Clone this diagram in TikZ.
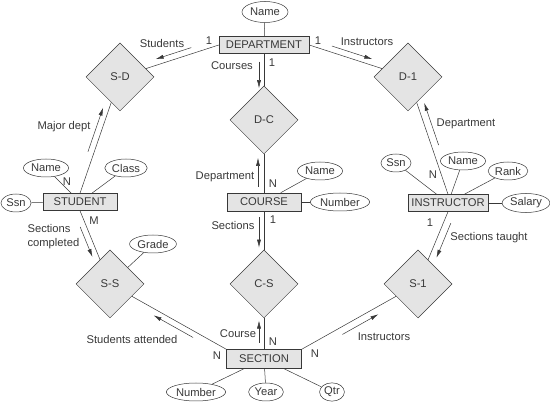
\documentclass[tikz,border=0pt]{standalone}
\usepackage{fontspec}
\setmainfont{Liberation Sans}
\usepackage{xcolor}
\usepackage{tikz}
\usetikzlibrary{shapes.geometric,arrows.meta,calc}

\definecolor{ink}{HTML}{383838}
\definecolor{boxfill}{HTML}{E4E4E4}

\begin{document}
\begin{tikzpicture}[x=1pt, y=-1pt, color=ink, line width=0.5pt,
                    font=\fontsize{11.2}{14}\selectfont,
                    entity/.style={rectangle, draw, fill=boxfill, minimum height=17pt, inner sep=0pt},
                    rel/.style={diamond, draw, fill=boxfill, minimum width=68pt, minimum height=68pt, inner sep=0pt},
                    attr/.style={ellipse, draw, fill=white, inner xsep=1pt, inner ysep=1.5pt, minimum height=18pt},
                    role/.style={-{Latex[length=8pt,width=4pt]}}]
  \useasboundingbox (0,0) rectangle (550,406);

  \node[entity, minimum width=90pt] (dept) at (264,45) {DEPARTMENT};
  \node[attr, minimum width=46pt, minimum height=21pt] (deptname) at (265,12) {Name};
  \node[rel] (sd) at (120,77) {S-D};
  \node[rel] (dc) at (264,120) {D-C};
  \node[rel] (di) at (408,77) {D-1};

  \node[entity, minimum width=74pt] (student) at (80,202) {STUDENT};
  \node[attr] (studname) at (46,168) {Name};
  \node[attr] (studclass) at (126,168) {Class};
  \node[attr] (studssn) at (16,203) {Ssn};

  \node[entity, minimum width=74pt, minimum height=18pt] (course) at (264,202) {COURSE};
  \node[attr] (coursename) at (320,171) {Name};
  \node[attr] (coursenum) at (340,202) {Number};

  \node[entity, minimum width=80pt] (instr) at (448,203) {INSTRUCTOR};
  \node[attr] (instrssn) at (396,163) {Ssn};
  \node[attr] (instrname) at (463,161) {Name};
  \node[attr] (instrrank) at (508,171) {Rank};
  \node[attr] (instrsal) at (526,203) {Salary};

  \node[rel] (ss) at (110,284) {S-S};
  \node[rel] (cs) at (264,284) {C-S};
  \node[rel] (si) at (418,284) {S-1};
  \node[attr] (grade) at (153,244) {Grade};

  \node[entity, minimum width=75pt, minimum height=19pt] (section) at (264,359) {SECTION};
  \node[attr] (secnum) at (196,392) {Number};
  \node[attr] (secyear) at (266,392) {Year};
  \node[attr] (secqtr) at (332,392) {Qtr};

  \draw (deptname) -- (dept);
  \draw (studssn) -- (student);
  \draw (studname) -- (student);
  \draw (studclass) -- (student);
  \draw (coursename) -- (course);
  \draw (coursenum) -- (course);
  \draw (instrssn) -- (instr);
  \draw (instrname) -- (instr);
  \draw (instrrank) -- (instr);
  \draw (instrsal) -- (instr);
  \draw (grade) -- (ss);
  \draw (secnum) -- (section);
  \draw (secyear) -- (section);
  \draw (secqtr) -- (section);

  \draw (dept.west) -- (sd);
  \draw (dept.east) -- (di);
  \draw (dept) -- (dc);
  \draw (course) -- (dc);
  \draw (course) -- (cs);
  \draw (section) -- (cs);
  \draw (student.north) -- (sd);
  \draw (student.south) -- (ss);
  \draw (section.north west) -- (ss);
  \draw (section.north east) -- (si);
  \draw (instr.south) -- (si);
  \draw (instr.north) -- (di);

  \draw[role] ($(dept.west)!.26!(sd)!6pt!-90:(sd)$) -- ($(dept.west)!.62!(sd)!6pt!-90:(sd)$);
  \draw[role] ($(dept.east)!.21!(di)!6pt!90:(di)$) -- ($(dept.east)!.62!(di)!6pt!90:(di)$);
  \draw[role] ($(dept.south)!.12!(dc)!5pt!-90:(dc)$) -- ($(dept.south)!.52!(dc)!5pt!-90:(dc)$);
  \draw[role] ($(course.north)!.08!(dc)!6pt!90:(dc)$) -- ($(course.north)!.48!(dc)!6pt!90:(dc)$);
  \draw[role] ($(course.south)!.08!(cs)!5pt!-90:(cs)$) -- ($(course.south)!.5!(cs)!5pt!-90:(cs)$);
  \draw[role] ($(section.north)!.1!(cs)!5pt!90:(cs)$) -- ($(section.north)!.44!(cs)!5pt!90:(cs)$);
  \draw[role] ($(student.north)!.34!(sd)!6pt!90:(sd)$) -- ($(student.north)!.72!(sd)!6pt!90:(sd)$);
  \draw[role] ($(student.south)!.19!(ss)!6pt!-90:(ss)$) -- ($(student.south)!.6!(ss)!6pt!-90:(ss)$);
  \draw[role] ($(section.north west)!.26!(ss)!6pt!90:(ss)$) -- ($(section.north west)!.6!(ss)!6pt!90:(ss)$);
  \draw[role] ($(section.north east)!.32!(si)!7pt!-90:(si)$) -- ($(section.north east)!.63!(si)!7pt!-90:(si)$);
  \draw[role] ($(instr.south)!.12!(si)!7pt!90:(si)$) -- ($(instr.south)!.6!(si)!7pt!90:(si)$);
  \draw[role] ($(instr.north)!.4!(di)!7pt!-90:(di)$) -- ($(instr.north)!.76!(di)!7pt!-90:(di)$);

  \node (lstudents) at (162,43) {Students};
  \node (ldeptl) at (209,41) {1};
  \node (lcourses) at (232,66) {Courses};
  \node (ldeptb) at (272,63) {1};
  \node (ldeptr) at (318,41) {1};
  \node (linstr) at (367,42) {Instructors};
  \node (lmajor) at (64,127) {Major dept};
  \node (lcdept) at (225,177) {Department};
  \node (lcn) at (273,184) {N};
  \node (lsn) at (67,182) {N};
  \node (lsm) at (94,221) {M};
  \node[align=left, anchor=west] (lcompleted) at (24,237) {Sections\\completed};
  \node (lattended) at (132,339) {Students attended};
  \node (lsecw) at (217,356) {N};
  \node (lcourse) at (238,334) {Course};
  \node (lsecn) at (273,342) {N};
  \node (lsece) at (315,354) {N};
  \node (linstrb) at (384,337) {Instructors};
  \node (lsections) at (233,225) {Sections};
  \node (lcone) at (273,220) {1};
  \node (lidept) at (466,124) {Department};
  \node (lin) at (433,175) {N};
  \node (lione) at (430,223) {1};
  \node (ltaught) at (489,238) {Sections taught};
\end{tikzpicture}
\end{document}
